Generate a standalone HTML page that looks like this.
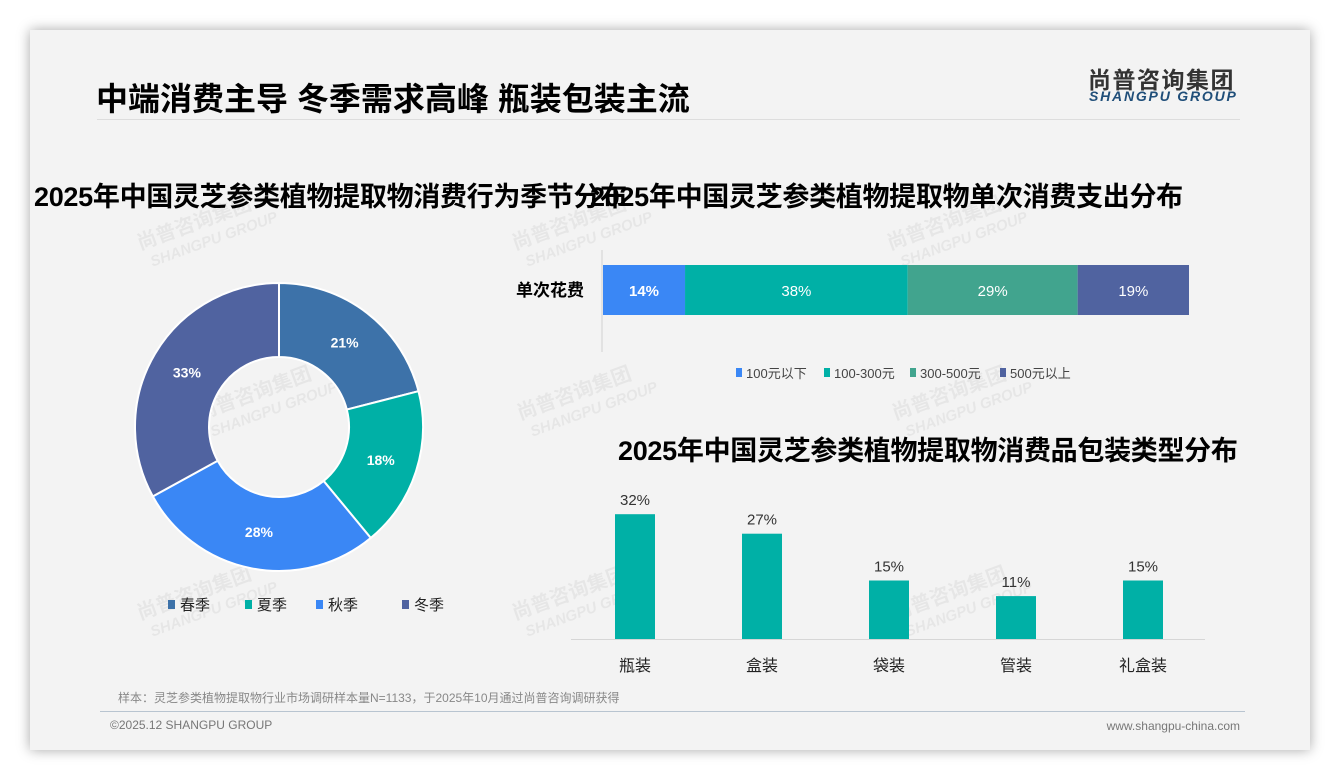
<!DOCTYPE html>
<html><head><meta charset="utf-8">
<style>
body{margin:0;width:1340px;height:780px;background:#fff;position:relative;overflow:hidden;font-family:"Liberation Sans","Noto Sans CJK SC",sans-serif;}
#card{position:absolute;left:30px;top:30px;width:1280px;height:720px;background:#f3f3f3;box-shadow:0 0 12px rgba(0,0,0,0.35);}
.abs{position:absolute;white-space:nowrap;}
.h2{font-size:27px;font-weight:bold;color:#000;letter-spacing:-0.3px;}
</style></head><body>
<div id="card"></div>
<div class="abs" style="left:96px;top:74px;font-size:32px;font-weight:bold;">中端消费主导 冬季需求高峰 瓶装包装主流</div>
<div class="abs" style="left:97px;top:119px;width:1143px;height:1px;background:#ddd;"></div>
<div class="abs" style="left:1088px;top:61px;font-size:23px;font-weight:bold;color:#333;letter-spacing:1.5px;">尚普咨询集团</div>
<div class="abs" style="left:1089px;top:88px;font-size:14px;font-weight:bold;font-style:italic;color:#1f4e79;letter-spacing:1.8px;">SHANGPU GROUP</div>
<div class="abs h2" style="left:34px;top:175px;">2025年中国灵芝参类植物提取物消费行为季节分布</div>
<div class="abs h2" style="left:590px;top:175px;">2025年中国灵芝参类植物提取物单次消费支出分布</div>
<div class="abs h2" style="left:618px;top:429px;">2025年中国灵芝参类植物提取物消费品包装类型分布</div>
<svg id="chart" width="1340" height="780" style="position:absolute;left:0;top:0"></svg>
<div class="abs" style="left:118px;top:689px;font-size:12px;color:#888;">样本：灵芝参类植物提取物行业市场调研样本量N=1133，于2025年10月通过尚普咨询调研获得</div>
<div class="abs" style="left:100px;top:711px;width:1145px;height:1px;background:#b8c4d0;"></div>
<div class="abs" style="left:110px;top:718px;font-size:12px;color:#777;">©2025.12 SHANGPU GROUP</div>
<div class="abs" style="right:100px;top:719px;font-size:12px;color:#777;">www.shangpu-china.com</div>
<script>
const seasons=["春季","夏季","秋季","冬季"];
const seasonVals=[21,18,28,33];
const seasonColors=["#3d72a9","#00b0a6","#3a87f5","#5063a0"];
const spendCats=["100元以下","100-300元","300-500元","500元以上"];
const spendVals=[14,38,29,19];
const spendColors=["#3a87f5","#00b0a6","#41a48e","#5063a0"];
const pkgCats=["瓶装","盒装","袋装","管装","礼盒装"];
const pkgVals=[32,27,15,11,15];
const NS="http://www.w3.org/2000/svg";
const svg=document.getElementById('chart');
function mk(t,a,txt){const e=document.createElementNS(NS,t);for(const k in a)e.setAttribute(k,a[k]);if(txt!=null)e.textContent=txt;svg.appendChild(e);return e;}
const wms=[[140,250],[515,250],[890,250],[200,420],[520,420],[895,420],[140,620],[515,620],[895,620]];
wms.forEach(p=>{
const t=mk('text',{x:p[0],y:p[1],transform:`rotate(-20 ${p[0]} ${p[1]})`,'font-size':20,'font-weight':'bold',fill:'rgba(0,0,0,0.05)'},'尚普咨询集团');


const t2=mk('text',{x:p[0]+6,y:p[1]+20,transform:`rotate(-20 ${p[0]} ${p[1]})`,'font-size':15,'font-weight':'bold','font-style':'italic',fill:'rgba(0,0,0,0.05)'},'SHANGPU GROUP');


});
const cx=279,cy=427,R=144,r=70;
const tot=seasonVals.reduce((a,b)=>a+b,0);
let ang=0;
seasonVals.forEach((v,i)=>{
const a0=ang/tot*2*Math.PI,a1=(ang+v)/tot*2*Math.PI;ang+=v;
const P=(rad,a)=>[cx+rad*Math.sin(a),cy-rad*Math.cos(a)];
const lg=(a1-a0)>Math.PI?1:0;
const [x0,y0]=P(R,a0),[x1,y1]=P(R,a1),[x2,y2]=P(r,a1),[x3,y3]=P(r,a0);
const p=mk('path',{d:`M${x0},${y0}A${R},${R} 0 ${lg} 1 ${x1},${y1}L${x2},${y2}A${r},${r} 0 ${lg} 0 ${x3},${y3}Z`,fill:seasonColors[i],stroke:'#fff','stroke-width':2});


const [lx,ly]=P((R+r)/2,(a0+a1)/2);
const t=mk('text',{x:lx,y:ly+5,'text-anchor':'middle','font-size':14,'font-weight':'bold',fill:'#fff'},v+'%');


});
const lx0=[168,245,316,402];
seasons.forEach((s,i)=>{
const q=mk('rect',{x:lx0[i],y:600,width:7,height:9,fill:seasonColors[i]});


const t=mk('text',{x:lx0[i]+12,y:610,'font-size':15,fill:'#222'},s);


});
const bx0=603,bx1=1189,by=265,bh=50;
const ax=mk('line',{x1:602,y1:250,x2:602,y2:352,stroke:'#d0d0d0'});


const yl=mk('text',{x:584,y:296,'text-anchor':'end','font-size':17,'font-weight':'bold',fill:'#000'},'单次花费');


const st=spendVals.reduce((a,b)=>a+b,0);
let acc=0;
spendVals.forEach((v,i)=>{
const x=bx0+acc/st*(bx1-bx0),w=v/st*(bx1-bx0);acc+=v;
const b=mk('rect',{x:x,y:by,width:w,height:bh,fill:spendColors[i]});


const t=mk('text',{x:x+w/2,y:by+31,'text-anchor':'middle','font-size':15,'font-weight':i==0?'bold':'normal',fill:'#fff'},v+'%');


});
const sl=[736,824,910,1000];
spendCats.forEach((s,i)=>{
const q=mk('rect',{x:sl[i],y:368,width:6,height:9,fill:spendColors[i]});


const t=mk('text',{x:sl[i]+10,y:378,'font-size':13,fill:'#444'},s);


});
const base=639,scale=3.9,c0=635,step=127,bw=40;
const bl=mk('line',{x1:571,y1:base+0.5,x2:1205,y2:base+0.5,stroke:'#d6d6d6'});


pkgVals.forEach((v,i)=>{
const cxb=c0+i*step,h=v*scale;
const b=mk('rect',{x:cxb-bw/2,y:base-h,width:bw,height:h,fill:'#00b0a6'});


const t=mk('text',{x:cxb,y:base-h-9,'text-anchor':'middle','font-size':15,fill:'#333'},v+'%');


const c=mk('text',{x:cxb,y:671,'text-anchor':'middle','font-size':16,fill:'#222'},pkgCats[i]);


});
</script>
</body></html>
